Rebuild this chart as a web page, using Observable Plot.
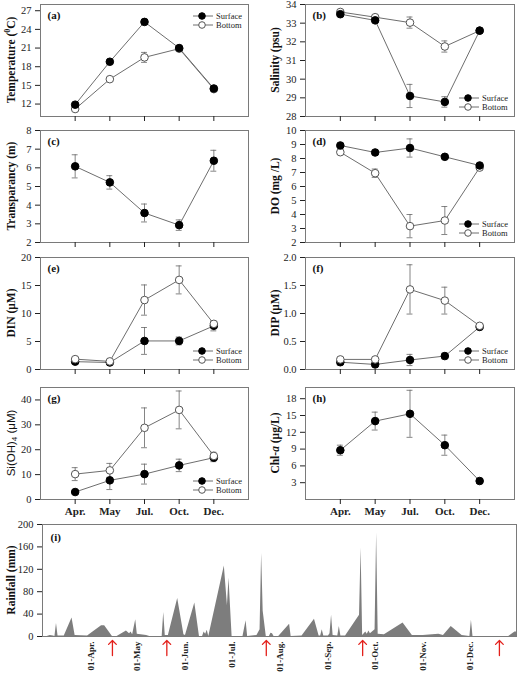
<!DOCTYPE html>
<html>
<head>
<meta charset="utf-8">
<script src="https://cdn.jsdelivr.net/npm/d3@7"></script>
<script src="https://cdn.jsdelivr.net/npm/@observablehq/plot@0.6"></script>
<style>
  html, body { margin: 0; padding: 0; background: #fff; }
  #fig { position: relative; width: 523px; height: 674px; overflow: hidden; background: #fff; }
  #fig svg { position: absolute; }
</style>
</head>
<body>
<div id="fig"></div>
<script>
// ---- Seasonal survey data (mean and standard deviation per cruise) ----
const months = ["Apr.", "May", "Jul.", "Oct.", "Dec."];
const seriesNames = ["Surface", "Bottom"];

const tempSurf = [11.9, 18.8, 25.2, 21.0, 14.5];
const tempSurfSd = [0.2, 0.2, 0.2, 0.2, 0.2];
const tempBot = [11.2, 16.0, 19.5, 20.9, 14.4];
const tempBotSd = [0.2, 0.2, 0.8, 0.2, 0.2];

const salSurf = [33.48, 33.15, 29.1, 28.78, 32.6];
const salSurfSd = [0.05, 0.05, 0.62, 0.28, 0.05];
const salBot = [33.6, 33.32, 33.03, 31.75, 32.6];
const salBotSd = [0.05, 0.05, 0.3, 0.3, 0.05];

const transp = [6.08, 5.22, 3.58, 2.93, 6.38];
const transpSd = [0.62, 0.36, 0.48, 0.28, 0.56];

const doSurf = [8.93, 8.43, 8.75, 8.12, 7.5];
const doSurfSd = [0.05, 0.05, 0.65, 0.1, 0.1];
const doBot = [8.45, 6.95, 3.17, 3.57, 7.35];
const doBotSd = [0.05, 0.3, 0.83, 1.0, 0.1];

const dinSurf = [1.4, 1.25, 5.1, 5.1, 7.8];
const dinSurfSd = [0.3, 0.2, 2.4, 0.7, 0.9];
const dinBot = [1.85, 1.45, 12.4, 16.0, 8.15];
const dinBotSd = [0.2, 0.2, 2.7, 2.5, 0.4];

const dipSurf = [0.13, 0.09, 0.17, 0.24, 0.76];
const dipSurfSd = [0.05, 0.02, 0.1, 0.05, 0.03];
const dipBot = [0.18, 0.18, 1.43, 1.23, 0.78];
const dipBotSd = [0.02, 0.02, 0.44, 0.24, 0.04];

const siSurf = [3.0, 7.7, 10.2, 13.7, 16.8];
const siSurfSd = [0.5, 3.7, 4.0, 2.5, 1.6];
const siBot = [10.2, 11.7, 28.8, 36.0, 17.5];
const siBotSd = [2.6, 2.8, 8.0, 7.6, 1.5];

const chla = [8.8, 14.0, 15.3, 9.7, 3.3];
const chlaSd = [0.9, 1.6, 4.2, 1.8, 0.4];

// ---- Daily rainfall ----
const rainDates = [
  "2013-03-04","2013-03-06","2013-03-08","2013-03-09","2013-03-10","2013-03-11","2013-03-15","2013-03-20",
  "2013-03-22","2013-03-30","2013-04-08","2013-04-10","2013-04-15","2013-04-18","2013-04-24","2013-04-26",
  "2013-04-27","2013-04-28","2013-04-30","2013-05-01","2013-05-07","2013-05-09","2013-05-17","2013-05-18",
  "2013-05-19","2013-05-21","2013-05-27","2013-05-31","2013-06-01","2013-06-07","2013-06-10","2013-06-12",
  "2013-06-13","2013-06-14","2013-06-15","2013-06-16","2013-06-26","2013-06-28","2013-06-29","2013-07-01",
  "2013-07-08","2013-07-10","2013-07-11","2013-07-17","2013-07-19","2013-07-20","2013-07-21","2013-07-23",
  "2013-07-25","2013-07-26","2013-07-27","2013-07-28","2013-07-31","2013-08-07","2013-08-08","2013-08-15",
  "2013-08-23","2013-08-26","2013-08-27","2013-08-28","2013-08-29","2013-09-01","2013-09-02","2013-09-03",
  "2013-09-04","2013-09-07","2013-09-08","2013-09-09","2013-09-12","2013-09-21","2013-09-22","2013-09-23",
  "2013-09-25","2013-09-26","2013-09-27","2013-09-28","2013-10-01","2013-10-02","2013-10-03","2013-10-07",
  "2013-10-19","2013-10-25","2013-11-01","2013-11-11","2013-11-14","2013-11-19","2013-11-26","2013-12-01",
  "2013-12-02","2013-12-03","2013-12-26","2013-12-30","2013-12-31"
];
const rainMM = [
  0, 2, 1, 0, 23, 1, 1, 33,
  2, 1, 19, 19, 0, 0, 10, 5,
  8, 3, 30, 4, 2, 0, 0, 43,
  2, 2, 68, 3, 2, 60, 0, 0,
  8, 4, 11, 0, 126, 55, 104, 0,
  0, 28, 0, 2, 12, 148, 45, 0,
  0, 6, 5, 0, 0, 22, 0, 1,
  31, 1, 1, 12, 1, 1, 5, 38,
  2, 1, 18, 1, 1, 38, 158, 2,
  8, 4, 10, 5, 12, 185, 4, 3,
  24, 2, 2, 4, 2, 18, 2, 0,
  29, 0, 0, 8, 8
];
const rainTickDates = ["2013-04-01","2013-05-01","2013-06-01","2013-07-01","2013-08-01",
                       "2013-09-01","2013-10-01","2013-11-01","2013-12-01"];
const rainTickLabels = ["01-Apr.","01-May","01-Jun.","01-Jul.","01-Aug.",
                        "01-Sep.","01-Oct.","01-Nov.","01-Dec."];
const rainTicksY = [0, 40, 80, 120, 160, 200];
const samplingDates = ["2013-04-15","2013-05-20","2013-07-23","2013-09-23","2013-12-20"];

// ---- Layout ----
const SERIF = "'Liberation Serif', 'Times New Roman', serif";
const SANS = "'Liberation Sans', Arial, sans-serif";
const fig = document.getElementById("fig");
const FRAME_H = 112;
const COLS = [
  {left: 0, width: 262, ml: 40, mr: 14, labelX: 12},
  {left: 262, width: 261, ml: 43, mr: 9, labelX: 14}
];
const ROW_TOPS = [4, 130, 257, 387];
const LINE = "#6e6e6e", ERR = "#666", FRAME = "#7a7a7a";

function place(svg, left, top) {
  svg.style.left = left + "px";
  svg.style.top = top + "px";
  fig.appendChild(svg);
}

// Rotated axis title built from text segments (plain / sup / sub / italic)
function addYLabel(svg, x, y, parts, font, weight) {
  const t = d3.select(svg).append("text")
    .attr("transform", `translate(${x},${y}) rotate(-90)`)
    .attr("text-anchor", "middle")
    .attr("dominant-baseline", "middle")
    .attr("font-family", font)
    .attr("font-weight", weight)
    .attr("font-size", 11.5)
    .attr("fill", "#111");
  for (const [str, kind] of parts) {
    const s = t.append("tspan").text(str);
    if (kind === "sup") s.attr("font-size", 8).attr("dy", -4);
    if (kind === "sub") s.attr("font-size", 8).attr("dy", 3);
    if (kind === "italic") s.attr("font-style", "italic");
    if (kind === "after-sup") s.attr("dy", 4);
    if (kind === "after-sub") s.attr("dy", -3);
  }
}

function addLegend(svg, frame, where) {
  const ys = where === "top" ? [frame.top + 12, frame.top + 21] : [frame.bottom - 18, frame.bottom - 9];
  const g = d3.select(svg).append("g");
  seriesNames.forEach((name, k) => {
    const y = ys[k];
    g.append("line").attr("x1", frame.right - 55).attr("x2", frame.right - 35)
      .attr("y1", y).attr("y2", y).attr("stroke", LINE).attr("stroke-width", 1);
    g.append("circle").attr("cx", frame.right - 46).attr("cy", y).attr("r", 3.3)
      .attr("fill", k === 0 ? "#000" : "#fff").attr("stroke", k === 0 ? "#000" : "#555");
    g.append("text").attr("x", frame.right - 32).attr("y", y).attr("dy", "0.32em")
      .attr("text-anchor", "start")
      .attr("font-family", SERIF).attr("font-size", 8.5).attr("fill", "#222").text(name);
  });
}

function panel(p) {
  const col = COLS[p.col];
  const frameTop = ROW_TOPS[p.row];
  const last = p.row === 3;
  const mb = last ? 24 : 8;
  const height = 4 + FRAME_H + mb;
  const rowsOf = (vals, sd) => vals.map((v, k) => ({i: k + 1, v, lo: v - sd[k], hi: v + sd[k]}));
  const series = p.series.map(s => ({...s, rows: rowsOf(s.values, s.sd)}));
  const dotOrder = p.bottomOnTop ? series : [...series].reverse();

  const marks = [
    Plot.frame({stroke: FRAME, strokeWidth: 1}),
    Plot.axisY({ticks: p.yTicks, tickSize: 5, tickPadding: 4, tickFormat: p.yFormat || (d => String(d)),
      label: null, fontSize: 10.5, color: "#222"}),
    last
      ? Plot.axisX({ticks: [1, 2, 3, 4, 5], tickSize: 5, tickPadding: 3, label: null,
          tickFormat: d => months[d - 1], fontSize: 11, fontWeight: "bold", color: "#222"})
      : Plot.axisX({ticks: [1, 2, 3, 4, 5], tickSize: 5, label: null, tickFormat: () => "", color: "#222"})
  ];
  for (const s of series) {
    marks.push(Plot.line(s.rows, {x: "i", y: "v", stroke: LINE, strokeWidth: 1}));
  }
  for (const s of series) {
    marks.push(
      Plot.ruleX(s.rows, {x: "i", y1: "lo", y2: "hi", stroke: ERR, strokeWidth: 0.8}),
      Plot.ruleY(s.rows, {y: "lo", x1: d => d.i - 0.085, x2: d => d.i + 0.085, stroke: ERR, strokeWidth: 0.8}),
      Plot.ruleY(s.rows, {y: "hi", x1: d => d.i - 0.085, x2: d => d.i + 0.085, stroke: ERR, strokeWidth: 0.8})
    );
  }
  for (const s of dotOrder) {
    marks.push(Plot.dot(s.rows, {x: "i", y: "v", r: 3.8,
      fill: s.filled ? "#000" : "#fff", stroke: s.filled ? "#000" : "#555", strokeWidth: 1}));
  }
  marks.push(Plot.text([p.letter], {frameAnchor: "top-left", dx: 7, dy: 11, textAnchor: "start",
    lineAnchor: "middle", fontWeight: "bold", fontSize: 11, fill: "#111"}));

  const svg = Plot.plot({
    width: col.width, height,
    marginLeft: col.ml, marginRight: col.mr, marginTop: 4, marginBottom: mb,
    x: {domain: [0, 6]},
    y: {domain: p.yDomain},
    style: {fontFamily: SERIF, fontSize: "10.5px", background: "transparent", color: "#222"},
    marks
  });
  // the upper rows share the month labels of the bottom row: keep only their tick marks
  if (!last) d3.select(svg).selectAll("g[aria-label='x-axis tick label']").remove();
  addYLabel(svg, col.labelX, 4 + FRAME_H / 2, p.label, p.labelFont || SERIF, p.labelWeight || "bold");
  if (p.legend) {
    addLegend(svg, {top: 4, bottom: 4 + FRAME_H, right: col.width - col.mr}, p.legend);
  }
  place(svg, col.left, frameTop - 4);
}

panel({col: 0, row: 0, letter: "(a)", yDomain: [10, 28], yTicks: [12, 15, 18, 21, 24, 27],
  series: [{values: tempSurf, sd: tempSurfSd, filled: true}, {values: tempBot, sd: tempBotSd, filled: false}],
  label: [["Temperature ("], ["0", "sup"], ["C)", "after-sup"]], legend: "top"});

panel({col: 1, row: 0, letter: "(b)", yDomain: [28, 34], yTicks: [28, 29, 30, 31, 32, 33, 34],
  series: [{values: salSurf, sd: salSurfSd, filled: true}, {values: salBot, sd: salBotSd, filled: false}],
  label: [["Salinity (psu)"]], legend: "bottom"});

panel({col: 0, row: 1, letter: "(c)", yDomain: [2, 8], yTicks: [2, 3, 4, 5, 6, 7, 8],
  series: [{values: transp, sd: transpSd, filled: true}],
  label: [["Transparancy (m)"]]});

panel({col: 1, row: 1, letter: "(d)", yDomain: [2, 10], yTicks: [2, 3, 4, 5, 6, 7, 8, 9, 10],
  series: [{values: doSurf, sd: doSurfSd, filled: true}, {values: doBot, sd: doBotSd, filled: false}],
  label: [["DO (mg /L)"]], legend: "bottom"});

panel({col: 0, row: 2, letter: "(e)", yDomain: [0, 20], yTicks: [0, 5, 10, 15, 20], bottomOnTop: true,
  series: [{values: dinSurf, sd: dinSurfSd, filled: true}, {values: dinBot, sd: dinBotSd, filled: false}],
  label: [["DIN (μM)"]], legend: "bottom"});

panel({col: 1, row: 2, letter: "(f)", yDomain: [0, 2], yTicks: [0, 0.5, 1, 1.5, 2], yFormat: d => d.toFixed(1),
  bottomOnTop: true,
  series: [{values: dipSurf, sd: dipSurfSd, filled: true}, {values: dipBot, sd: dipBotSd, filled: false}],
  label: [["DIP (μM)"]], legend: "bottom"});

panel({col: 0, row: 3, letter: "(g)", yDomain: [0, 45], yTicks: [0, 10, 20, 30, 40], bottomOnTop: true,
  series: [{values: siSurf, sd: siSurfSd, filled: true}, {values: siBot, sd: siBotSd, filled: false}],
  label: [["Si(OH)"], ["4", "sub"], [" (μM)", "after-sub"]], labelFont: SANS, labelWeight: "normal",
  legend: "bottom"});

panel({col: 1, row: 3, letter: "(h)", yDomain: [0, 20], yTicks: [3, 6, 9, 12, 15, 18],
  series: [{values: chla, sd: chlaSd, filled: true}],
  label: [["Chl-"], ["a", "italic"], [" (μg/L)"]]});

// ---- Rainfall panel ----
const rainRows = rainDates.map((d, k) => ({date: new Date(d), mm: rainMM[k]}));
const rainSvg = Plot.plot({
  width: 523, height: 154,
  marginLeft: 42, marginRight: 7, marginTop: 4, marginBottom: 38,
  x: {type: "utc", domain: [new Date("2013-03-01"), new Date("2013-12-31")], axis: null},
  y: {domain: [0, 200]},
  style: {fontFamily: SERIF, fontSize: "10.5px", background: "transparent", color: "#222"},
  marks: [
    Plot.areaY(rainRows, {x: "date", y: "mm", fill: "#7d7d7d"}),
    Plot.frame({stroke: FRAME, strokeWidth: 1}),
    Plot.axisY({ticks: rainTicksY, tickSize: 5, tickPadding: 4, label: null, fontSize: 10.5, color: "#222"}),
    // month labels, rotated to read upward, hanging below the frame
    Plot.text(rainTickDates, {x: d => new Date(d), text: (d, k) => rainTickLabels[k],
      frameAnchor: "bottom", dy: 5, rotate: -90, textAnchor: "end", lineAnchor: "middle",
      fontSize: 9, fontWeight: "bold", fill: "#222"}),
    Plot.vector(samplingDates.map(d => new Date(d)), {x: d => d, frameAnchor: "bottom", dy: 19,
      length: 15, anchor: "start", shape: "arrow", r: 4.5, stroke: "#e3201b", strokeWidth: 1.3}),
    Plot.text(["(i)"], {frameAnchor: "top-left", dx: 8, dy: 13, textAnchor: "start", lineAnchor: "middle",
      fontWeight: "bold", fontSize: 11, fill: "#111"})
  ]
});
addYLabel(rainSvg, 12, 4 + FRAME_H / 2, [["Rainfall (mm)"]], SERIF, "bold");
place(rainSvg, 0, 520);
</script>
</body>
</html>
